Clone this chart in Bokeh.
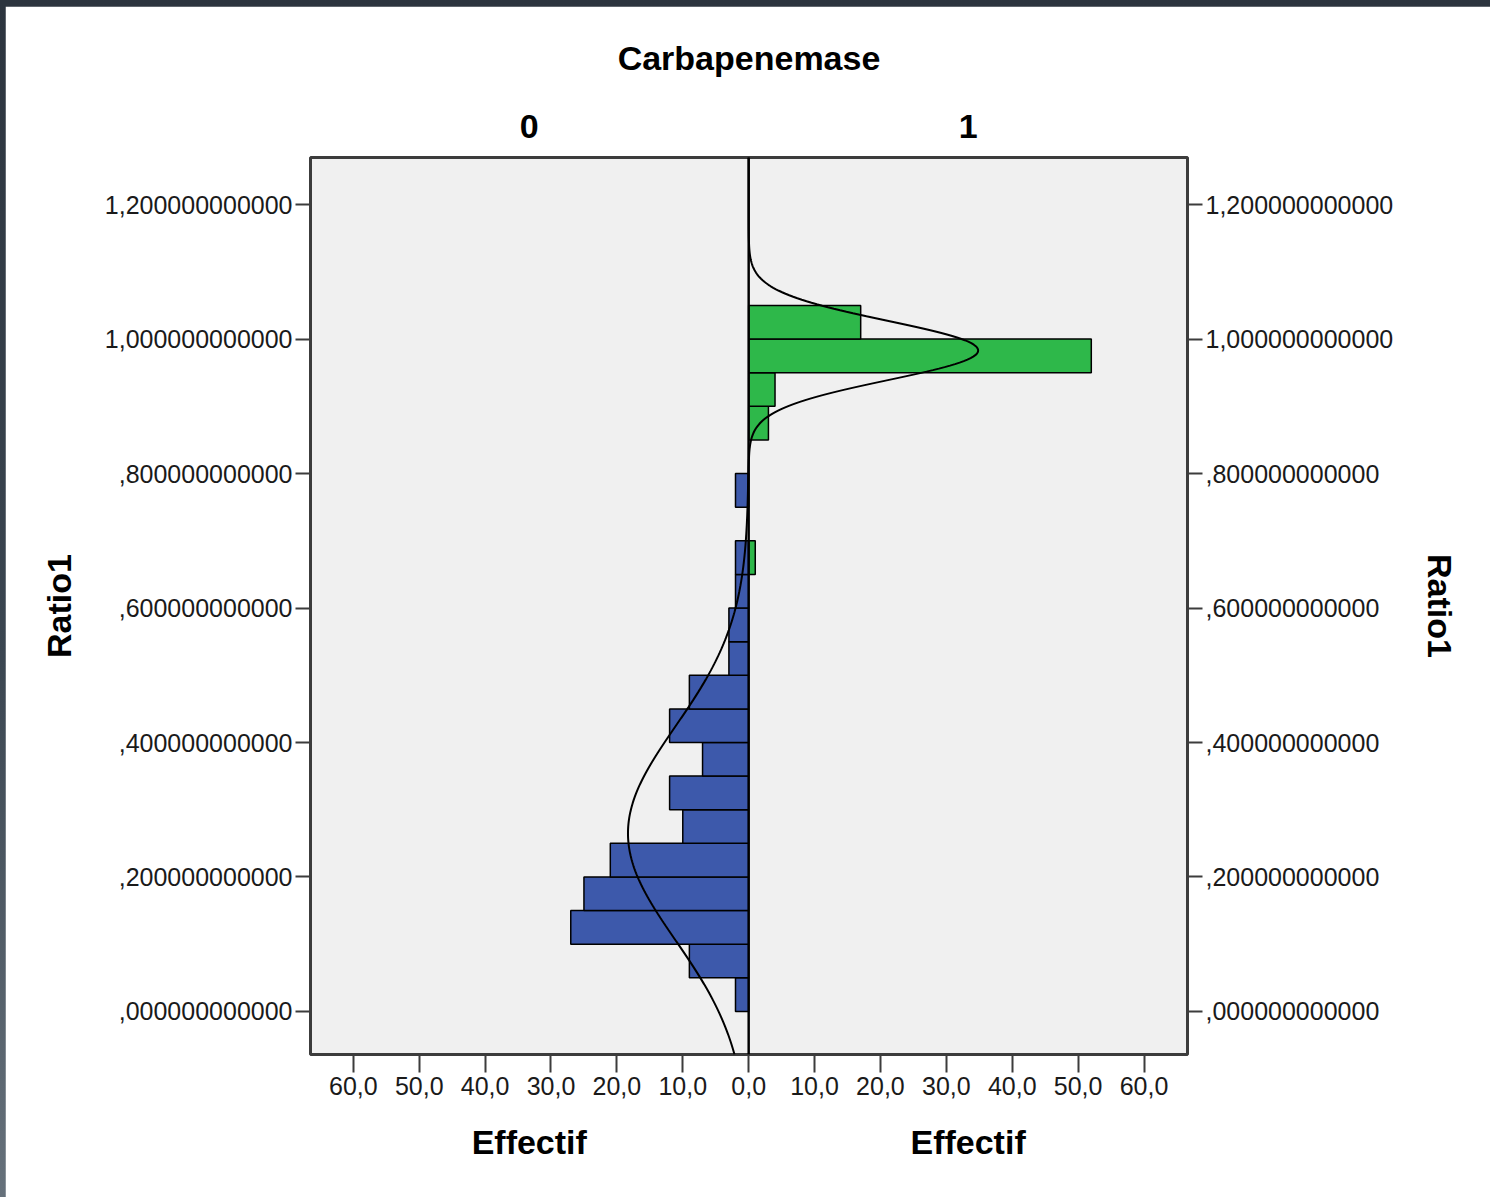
import math
import numpy as np
from bokeh.plotting import figure
from bokeh.models import Range1d, LinearAxis, FixedTicker, Span, ColumnDataSource
from bokeh.layouts import column
from bokeh.embed import file_html
from bokeh.resources import INLINE

# Ratio1 histogram, split by Carbapenemase (0 on the left, 1 on the right)
bin_width = 0.05

group0_bin_start = [0.00, 0.05, 0.10, 0.15, 0.20, 0.25, 0.30, 0.35,
                    0.40, 0.45, 0.50, 0.55, 0.60, 0.65, 0.75]
group0_counts = [2, 9, 27, 25, 21, 10, 12, 7, 12, 9, 3, 3, 2, 2, 2]

group1_bin_start = [0.65, 0.85, 0.90, 0.95, 1.00]
group1_counts = [1, 3, 4, 52, 17]

# fitted normal curves (mean, standard deviation)
group0_mean, group0_sd = 0.265, 0.159
group1_mean, group1_sd = 0.983, 0.0441

y_ticks = [0.0, 0.2, 0.4, 0.6, 0.8, 1.0, 1.2]
y_tick_labels = [",000000000000", ",200000000000", ",400000000000",
                 ",600000000000", ",800000000000", "1,000000000000",
                 "1,200000000000"]
x_ticks = [-60, -50, -40, -30, -20, -10, 0, 10, 20, 30, 40, 50, 60]
x_tick_labels = [f"{abs(t)},0" for t in x_ticks]

panel_names = ["0", "1"]
panel_centers = [-33.3, 33.3]

BLUE = "#3d59ab"
GREEN = "#2eb84a"
FONT = "Liberation Sans"
TITLE_SIZE = "34px"

x_lo, x_hi = -66.5, 66.6
y_lo, y_hi = -0.064, 1.27

p = figure(width=1485, height=1191,
           x_range=Range1d(x_lo, x_hi), y_range=Range1d(y_lo, y_hi),
           output_backend="svg", toolbar_location=None,
           min_border_left=305, min_border_right=303,
           min_border_top=151, min_border_bottom=143)
p.margin = (6, 0, 0, 5)
p.background_fill_color = "#f0f0f0"
p.border_fill_color = "white"
p.outline_line_color = "#3c3c3c"
p.outline_line_width = 3
p.xgrid.visible = False
p.ygrid.visible = False

# bars
src0 = ColumnDataSource(dict(
    y=[b + bin_width / 2 for b in group0_bin_start],
    left=[-c for c in group0_counts],
    right=[0] * len(group0_counts)))
src1 = ColumnDataSource(dict(
    y=[b + bin_width / 2 for b in group1_bin_start],
    left=[0] * len(group1_counts),
    right=group1_counts))
p.hbar(y="y", left="left", right="right", height=bin_width, source=src0,
       fill_color=BLUE, line_color="black", line_width=1.5)
p.hbar(y="y", left="left", right="right", height=bin_width, source=src1,
       fill_color=GREEN, line_color="black", line_width=1.5)

# normal curves scaled to counts
ys = np.linspace(y_lo, y_hi, 600)


def normal_counts(n, mean, sd):
    return n * bin_width * np.exp(-0.5 * ((ys - mean) / sd) ** 2) / (sd * math.sqrt(2 * math.pi))


curve0 = normal_counts(sum(group0_counts), group0_mean, group0_sd)
curve1 = normal_counts(sum(group1_counts), group1_mean, group1_sd)
p.line(-curve0, ys, line_color="black", line_width=2)
p.line(curve1, ys, line_color="black", line_width=2)

p.add_layout(Span(location=0, dimension="height", line_color="black",
                  line_width=2))


def style_axis(ax):
    ax.axis_line_color = None
    ax.major_tick_line_color = "#3c3c3c"
    ax.major_tick_line_width = 2
    ax.minor_tick_line_color = None
    ax.major_tick_in = 0
    ax.major_label_text_font = FONT
    ax.major_label_text_font_size = "25px"
    ax.major_label_text_color = "#1a1a1a"
    ax.axis_label_text_font = FONT
    ax.axis_label_text_font_size = TITLE_SIZE
    ax.axis_label_text_font_style = "bold"
    ax.axis_label_text_color = "black"


def style_heading_axis(ax):
    # axis used only to carry bold headings
    ax.axis_line_color = None
    ax.major_tick_line_color = None
    ax.minor_tick_line_color = None
    ax.major_label_text_font = FONT
    ax.major_label_text_font_size = TITLE_SIZE
    ax.major_label_text_font_style = "bold"
    ax.major_label_text_color = "black"
    ax.axis_label_text_font = FONT
    ax.axis_label_text_font_size = TITLE_SIZE
    ax.axis_label_text_font_style = "bold"
    ax.axis_label_text_color = "black"


# left and right value axes
p.yaxis.ticker = FixedTicker(ticks=y_ticks)
p.yaxis.major_label_overrides = dict(zip(y_ticks, y_tick_labels))
p.yaxis.axis_label = "Ratio1"
for ax in p.yaxis:
    style_axis(ax)
    ax.major_tick_out = 15
    ax.major_label_standoff = 3
    ax.axis_label_standoff = 24

right_axis = LinearAxis(ticker=FixedTicker(ticks=y_ticks),
                        major_label_overrides=dict(zip(y_ticks, y_tick_labels)),
                        axis_label="Ratio1")
style_axis(right_axis)
right_axis.major_tick_out = 15
right_axis.major_label_standoff = 3
right_axis.axis_label_standoff = 25
p.add_layout(right_axis, "right")

# count axis
p.xaxis.ticker = FixedTicker(ticks=x_ticks)
p.xaxis.major_label_overrides = dict(zip(x_ticks, x_tick_labels))
for ax in p.xaxis:
    style_axis(ax)
    ax.major_tick_out = 18
    ax.major_label_standoff = 4

# "Effectif" under each half
count_titles = LinearAxis(ticker=FixedTicker(ticks=panel_centers),
                          major_label_overrides=dict(zip(panel_centers, ["Effectif", "Effectif"])))
style_heading_axis(count_titles)
count_titles.major_label_standoff = 19
p.add_layout(count_titles, "below")

# group headings on top
group_axis = LinearAxis(ticker=FixedTicker(ticks=panel_centers),
                        major_label_overrides=dict(zip(panel_centers, panel_names)),
                        axis_label="Carbapenemase")
style_heading_axis(group_axis)
group_axis.major_label_standoff = 14
group_axis.axis_label_standoff = 35
p.add_layout(group_axis, "above")

page = column(p, styles={"background": "linear-gradient(to bottom, #2c343e, #3b4651 55%, #66717b)"})

open("out.html", "w").write(file_html(page, INLINE))
